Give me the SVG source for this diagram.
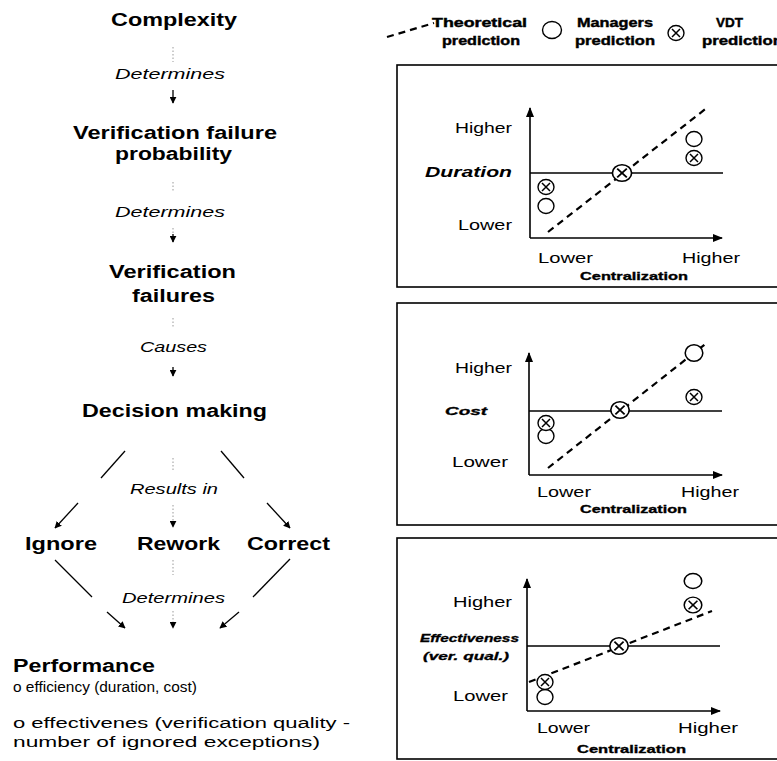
<svg xmlns="http://www.w3.org/2000/svg" xmlns:xlink="http://www.w3.org/1999/xlink" width="777" height="761" viewBox="0 0 777 761">
  <style>
    text { font-family: "Liberation Sans", Arial, sans-serif; fill: #000; }
    .head { font-size: 18px; font-weight: bold; }
    .verb { font-size: 15px; font-style: italic; }
    .body { font-size: 15.5px; }
    .ax { font-size: 15px; }
    .yl { font-size: 15px; font-weight: bold; font-style: italic; }
    .yls { font-size: 11px; font-weight: bold; font-style: italic; stroke: #000; stroke-width: 0.3; }
    .xl { font-size: 11.5px; font-weight: bold; stroke: #000; stroke-width: 0.35; }
    .leg { font-size: 12.5px; font-weight: bold; stroke: #000; stroke-width: 0.4; }
    .solid { stroke: #000; stroke-width: 1.3; fill: none; }
    .dot { stroke: #999; stroke-width: 1; stroke-dasharray: 1.5 2; fill: none; }
    .frame { stroke: #000; stroke-width: 1.6; fill: none; }
    .axis { stroke: #000; stroke-width: 1.6; fill: none; }
    .base { stroke: #000; stroke-width: 1.3; fill: none; }
    .theory { stroke: #000; stroke-width: 2.2; stroke-dasharray: 7 5; fill: none; }
    .mark { stroke: #000; stroke-width: 1.4; fill: #fff; }
  </style>
  <defs>
    <marker id="ah" viewBox="0 0 10 10" refX="9" refY="5" markerWidth="7" markerHeight="7" orient="auto" markerUnits="userSpaceOnUse">
      <path d="M0,0 L10,5 L0,10 z" fill="#000"/>
    </marker>
    <marker id="axh" viewBox="0 0 10 10" refX="9" refY="5" markerWidth="10" markerHeight="10" orient="auto" markerUnits="userSpaceOnUse">
      <path d="M0,1 L10,5 L0,9 z" fill="#000"/>
    </marker>
    <!-- managers prediction: open circle -->
    <g id="mgr"><ellipse class="mark" cx="0" cy="0" rx="8" ry="7.5"/></g>
    <!-- VDT prediction: circled cross -->
    <g id="vdt">
      <ellipse class="mark" cx="0" cy="0" rx="8" ry="7.5"/>
      <path d="M-4,-4 L4,4 M4,-4 L-4,4" stroke="#000" stroke-width="1.5"/>
    </g>
  </defs>

  <!-- causal chain on the left -->
  <g id="complexity"><text class="head" x="111" y="26" textLength="126" lengthAdjust="spacingAndGlyphs">Complexity</text></g>
  <g id="vfp">
    <text class="head" x="73" y="139" textLength="204" lengthAdjust="spacingAndGlyphs">Verification failure</text>
    <text class="head" x="115" y="160" textLength="117" lengthAdjust="spacingAndGlyphs">probability</text>
  </g>
  <g id="vf">
    <text class="head" x="109" y="278" textLength="127" lengthAdjust="spacingAndGlyphs">Verification</text>
    <text class="head" x="132" y="302" textLength="83" lengthAdjust="spacingAndGlyphs">failures</text>
  </g>
  <g id="decision"><text class="head" x="82" y="417" textLength="185" lengthAdjust="spacingAndGlyphs">Decision making</text></g>
  <g id="ignore"><text class="head" x="25" y="550" textLength="72" lengthAdjust="spacingAndGlyphs">Ignore</text></g>
  <g id="rework"><text class="head" x="137" y="550" textLength="83" lengthAdjust="spacingAndGlyphs">Rework</text></g>
  <g id="correct"><text class="head" x="247" y="550" textLength="83" lengthAdjust="spacingAndGlyphs">Correct</text></g>
  <g id="performance">
    <text class="head" x="13" y="672" textLength="142" lengthAdjust="spacingAndGlyphs">Performance</text>
    <text class="body" x="13" y="692" textLength="184" lengthAdjust="spacingAndGlyphs">o efficiency (duration, cost)</text>
    <text class="body" x="13" y="728" textLength="337" lengthAdjust="spacingAndGlyphs">o effectivenes (verification quality -</text>
    <text class="body" x="13" y="747" textLength="307" lengthAdjust="spacingAndGlyphs">number of ignored exceptions)</text>
  </g>

  <g id="connectors">
    <!-- Complexity -> Verification failure probability -->
    <line class="dot" x1="173" y1="47" x2="173" y2="62"/>
    <text class="verb" x="115" y="79" textLength="110" lengthAdjust="spacingAndGlyphs">Determines</text>
    <line class="solid" x1="173" y1="90" x2="173" y2="103" marker-end="url(#ah)"/>
    <!-- -> Verification failures -->
    <line class="dot" x1="173" y1="182" x2="173" y2="192"/>
    <text class="verb" x="115" y="217" textLength="110" lengthAdjust="spacingAndGlyphs">Determines</text>
    <line class="dot" x1="173" y1="228" x2="173" y2="234"/>
    <line class="solid" x1="173" y1="234" x2="173" y2="242" marker-end="url(#ah)"/>
    <!-- -> Decision making -->
    <line class="dot" x1="173" y1="318" x2="173" y2="328"/>
    <text class="verb" x="140" y="352" textLength="67" lengthAdjust="spacingAndGlyphs">Causes</text>
    <line class="solid" x1="173" y1="367" x2="173" y2="376" marker-end="url(#ah)"/>
    <!-- Decision making -> Ignore / Rework / Correct -->
    <line class="solid" x1="125" y1="451" x2="101" y2="478"/>
    <line class="solid" x1="78" y1="503" x2="55" y2="528" marker-end="url(#ah)"/>
    <line class="dot" x1="173" y1="458" x2="173" y2="472"/>
    <text class="verb" x="130" y="494" textLength="88" lengthAdjust="spacingAndGlyphs">Results in</text>
    <line class="dot" x1="173" y1="505" x2="173" y2="527" marker-end="url(#ah)"/>
    <line class="solid" x1="221" y1="451" x2="244" y2="478"/>
    <line class="solid" x1="267" y1="503" x2="290" y2="528" marker-end="url(#ah)"/>
    <!-- Ignore / Rework / Correct -> Performance -->
    <line class="solid" x1="55" y1="560" x2="92" y2="597"/>
    <line class="solid" x1="107" y1="612" x2="125" y2="628" marker-end="url(#ah)"/>
    <line class="dot" x1="173" y1="560" x2="173" y2="575"/>
    <text class="verb" x="122" y="603" textLength="103" lengthAdjust="spacingAndGlyphs">Determines</text>
    <line class="dot" x1="173" y1="611" x2="173" y2="628" marker-end="url(#ah)"/>
    <line class="solid" x1="290" y1="559" x2="253" y2="597"/>
    <line class="solid" x1="239" y1="612" x2="220" y2="628" marker-end="url(#ah)"/>
  </g>

  <!-- legend -->
  <g id="legend">
    <path class="theory" d="M387,37 L434,23" stroke-width="1.8" stroke-dasharray="1.5 6 8 7 8 6 6 0"/>
    <text class="leg" x="432" y="27" textLength="95" lengthAdjust="spacingAndGlyphs">Theoretical</text>
    <text class="leg" x="442" y="45" textLength="78" lengthAdjust="spacingAndGlyphs">prediction</text>
    <ellipse class="mark" cx="552" cy="30" rx="9.5" ry="8.5"/>
    <text class="leg" x="577" y="27" textLength="76" lengthAdjust="spacingAndGlyphs">Managers</text>
    <text class="leg" x="575" y="45" textLength="80" lengthAdjust="spacingAndGlyphs">prediction</text>
    <use xlink:href="#vdt" transform="translate(676,33)"/>
    <text class="leg" x="716" y="27" textLength="27" lengthAdjust="spacingAndGlyphs">VDT</text>
    <text class="leg" x="702" y="45" textLength="81" lengthAdjust="spacingAndGlyphs">prediction</text>
  </g>

  <!-- panel: duration -->
  <g id="panel-duration">
    <rect class="frame" x="397" y="65" width="400" height="222"/>
    <line class="axis" x1="530" y1="238" x2="530" y2="108" marker-end="url(#axh)"/>
    <line class="axis" x1="530" y1="238" x2="722" y2="238" marker-end="url(#axh)"/>
    <line class="base" x1="530" y1="173" x2="723" y2="173"/>
    <line class="theory" x1="548" y1="232" x2="708" y2="107"/>
    <text class="ax" x="455" y="133" textLength="57" lengthAdjust="spacingAndGlyphs">Higher</text>
    <text class="yl" x="425" y="177" textLength="87" lengthAdjust="spacingAndGlyphs">Duration</text>
    <text class="ax" x="458" y="230" textLength="54" lengthAdjust="spacingAndGlyphs">Lower</text>
    <text class="ax" x="538" y="263" textLength="55" lengthAdjust="spacingAndGlyphs">Lower</text>
    <text class="ax" x="682" y="263" textLength="58" lengthAdjust="spacingAndGlyphs">Higher</text>
    <text class="xl" x="580" y="280" textLength="108" lengthAdjust="spacingAndGlyphs">Centralization</text>
    <use xlink:href="#vdt" transform="translate(622,173) scale(1.2,1.1)"/>
    <use xlink:href="#mgr" transform="translate(694,139)"/>
    <use xlink:href="#vdt" transform="translate(694,158)"/>
    <use xlink:href="#vdt" transform="translate(546,187)"/>
    <use xlink:href="#mgr" transform="translate(546,206)"/>
  </g>

  <!-- panel: cost -->
  <g id="panel-cost">
    <rect class="frame" x="397" y="303" width="400" height="222"/>
    <line class="axis" x1="529" y1="475" x2="529" y2="353" marker-end="url(#axh)"/>
    <line class="axis" x1="529" y1="475" x2="722" y2="475" marker-end="url(#axh)"/>
    <line class="base" x1="529" y1="411" x2="722" y2="411"/>
    <line class="theory" x1="548" y1="468" x2="708" y2="342"/>
    <text class="ax" x="455" y="373" textLength="57" lengthAdjust="spacingAndGlyphs">Higher</text>
    <text class="yls" x="445" y="415" textLength="42" lengthAdjust="spacingAndGlyphs">Cost</text>
    <text class="ax" x="452" y="467" textLength="56" lengthAdjust="spacingAndGlyphs">Lower</text>
    <text class="ax" x="537" y="497" textLength="54" lengthAdjust="spacingAndGlyphs">Lower</text>
    <text class="ax" x="681" y="497" textLength="58" lengthAdjust="spacingAndGlyphs">Higher</text>
    <text class="xl" x="580" y="513" textLength="107" lengthAdjust="spacingAndGlyphs">Centralization</text>
    <use xlink:href="#vdt" transform="translate(620,410) scale(1.15,1.1)"/>
    <use xlink:href="#mgr" transform="translate(694,353) scale(1.1)"/>
    <use xlink:href="#vdt" transform="translate(694,397)"/>
    <use xlink:href="#mgr" transform="translate(546,436)"/>
    <use xlink:href="#vdt" transform="translate(546,423)"/>
  </g>

  <!-- panel: effectiveness -->
  <g id="panel-effectiveness">
    <rect class="frame" x="397" y="538" width="400" height="221"/>
    <line class="axis" x1="527" y1="711" x2="527" y2="579" marker-end="url(#axh)"/>
    <line class="axis" x1="527" y1="711" x2="720" y2="711" marker-end="url(#axh)"/>
    <line class="base" x1="527" y1="646" x2="720" y2="646"/>
    <line class="theory" x1="529" y1="682" x2="712" y2="611"/>
    <text class="ax" x="453" y="607" textLength="59" lengthAdjust="spacingAndGlyphs">Higher</text>
    <text class="yls" x="420" y="642" textLength="99" lengthAdjust="spacingAndGlyphs">Effectiveness</text>
    <text class="yls" x="423" y="660" textLength="86" lengthAdjust="spacingAndGlyphs">(ver. qual.)</text>
    <text class="ax" x="453" y="701" textLength="55" lengthAdjust="spacingAndGlyphs">Lower</text>
    <text class="ax" x="537" y="733" textLength="53" lengthAdjust="spacingAndGlyphs">Lower</text>
    <text class="ax" x="678" y="733" textLength="60" lengthAdjust="spacingAndGlyphs">Higher</text>
    <text class="xl" x="577" y="753" textLength="109" lengthAdjust="spacingAndGlyphs">Centralization</text>
    <use xlink:href="#vdt" transform="translate(619,646) scale(1.15,1.1)"/>
    <use xlink:href="#mgr" transform="translate(693,581) scale(1.1,1)"/>
    <use xlink:href="#vdt" transform="translate(693,605) scale(1.1,1.05)"/>
    <use xlink:href="#mgr" transform="translate(545,697)"/>
    <use xlink:href="#vdt" transform="translate(545,682)"/>
  </g>
</svg>
